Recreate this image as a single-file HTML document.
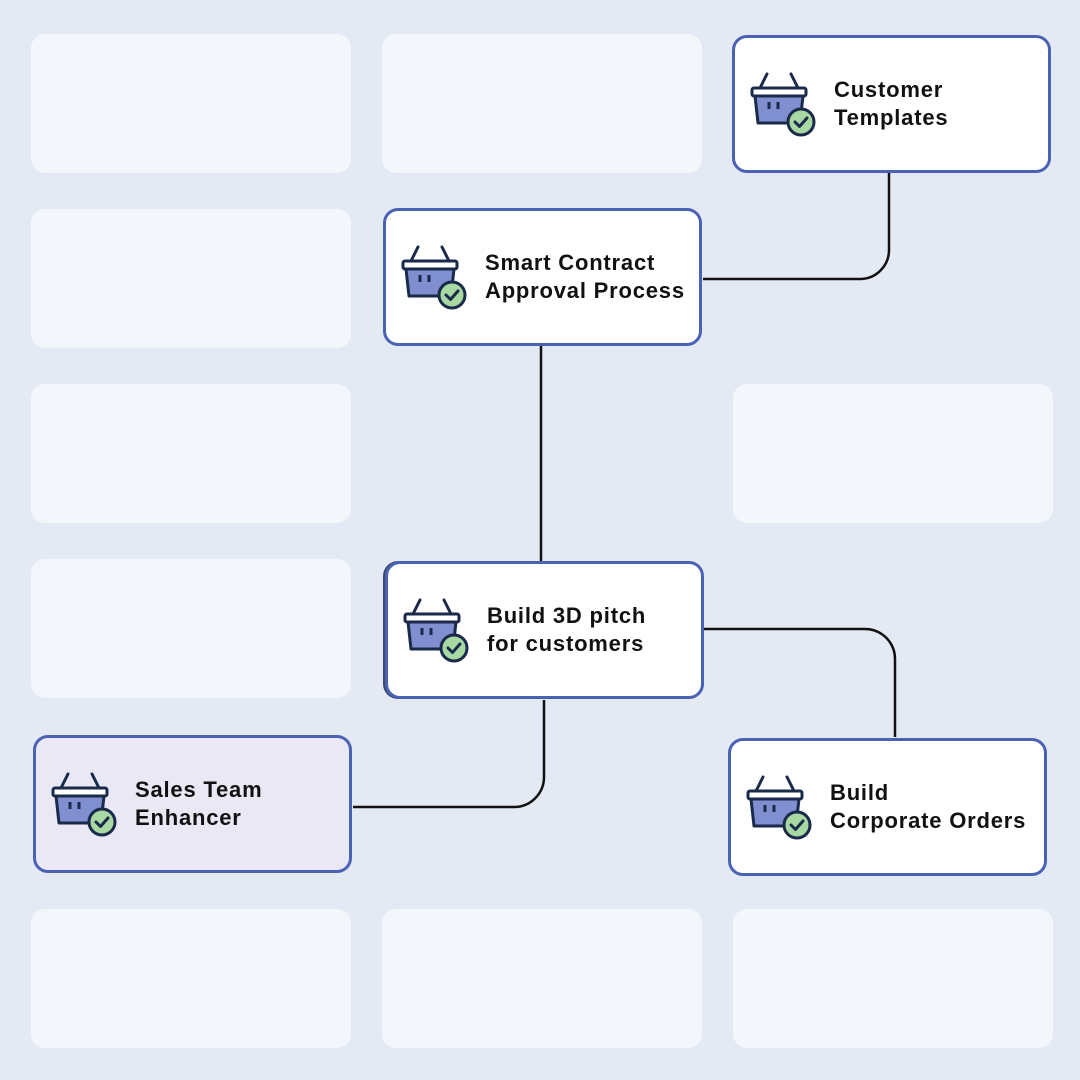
<!DOCTYPE html>
<html><head><meta charset="utf-8"><style>
body{margin:0;width:1080px;height:1080px;background:#e4eaf4;position:relative;overflow:hidden;font-family:"Liberation Sans",sans-serif}
.ph{position:absolute;width:320px;height:139px;background:#f3f6fa;border-radius:14px}
.n{position:absolute;width:313px;height:132px;background:#fff;border:3px solid #4a62b4;border-radius:15px}
.n svg{position:absolute;left:15px;top:33px}
.n .t{position:absolute;left:99px;top:0;height:132px;display:flex;align-items:center;font-weight:bold;font-size:22px;line-height:28px;color:#111;letter-spacing:0.8px}
</style></head><body>
<div class="ph" style="left:31px;top:34px"></div>
<div class="ph" style="left:382px;top:34px"></div>
<div class="ph" style="left:31px;top:209px"></div>
<div class="ph" style="left:31px;top:384px"></div>
<div class="ph" style="left:733px;top:384px"></div>
<div class="ph" style="left:31px;top:559px"></div>
<div class="ph" style="left:31px;top:909px"></div>
<div class="ph" style="left:382px;top:909px"></div>
<div class="ph" style="left:733px;top:909px"></div>

<svg width="1080" height="1080" style="position:absolute;left:0;top:0" fill="none" stroke="#111" stroke-width="2.5">
<path d="M889 172 V250 A29 29 0 0 1 860 279 H703"/>
<path d="M541 346 V561"/>
<path d="M704 629 H865 A30 30 0 0 1 895 659 V737"/>
<path d="M544 700 V777 A30 30 0 0 1 514 807 H353"/>
</svg>

<div class="n" style="left:732px;top:35px"><svg width="70" height="70"><g stroke="#1a2a4a" stroke-width="3" stroke-linecap="round" fill="none"><line x1="10" y1="17" x2="17" y2="3"/><line x1="48" y1="17" x2="41" y2="3"/></g><path d="M5 25 H53 L50 52 H8 Z" fill="#7f8fd0" stroke="#1a2a4a" stroke-width="3" stroke-linejoin="round"/><rect x="2" y="17" width="54" height="8" rx="2" fill="#fff" stroke="#1a2a4a" stroke-width="3"/><line x1="19" y1="31" x2="19" y2="38" stroke="#1a2a4a" stroke-width="3"/><line x1="28" y1="31" x2="28" y2="38" stroke="#1a2a4a" stroke-width="3"/><circle cx="51" cy="51" r="13" fill="#a9d9a3" stroke="#1a2a4a" stroke-width="3"/><path d="M45 51 L49.5 55.5 L57 47" stroke="#1a2a4a" stroke-width="3" fill="none" stroke-linecap="round" stroke-linejoin="round"/></svg><div class="t">Customer<br>Templates</div></div>

<div class="n" style="left:383px;top:208px"><svg width="70" height="70"><g stroke="#1a2a4a" stroke-width="3" stroke-linecap="round" fill="none"><line x1="10" y1="17" x2="17" y2="3"/><line x1="48" y1="17" x2="41" y2="3"/></g><path d="M5 25 H53 L50 52 H8 Z" fill="#7f8fd0" stroke="#1a2a4a" stroke-width="3" stroke-linejoin="round"/><rect x="2" y="17" width="54" height="8" rx="2" fill="#fff" stroke="#1a2a4a" stroke-width="3"/><line x1="19" y1="31" x2="19" y2="38" stroke="#1a2a4a" stroke-width="3"/><line x1="28" y1="31" x2="28" y2="38" stroke="#1a2a4a" stroke-width="3"/><circle cx="51" cy="51" r="13" fill="#a9d9a3" stroke="#1a2a4a" stroke-width="3"/><path d="M45 51 L49.5 55.5 L57 47" stroke="#1a2a4a" stroke-width="3" fill="none" stroke-linecap="round" stroke-linejoin="round"/></svg><div class="t">Smart Contract<br>Approval Process</div></div>

<div class="n" style="left:385px;top:561px;box-shadow:-2px 0 0 #3a4a70"><svg width="70" height="70"><g stroke="#1a2a4a" stroke-width="3" stroke-linecap="round" fill="none"><line x1="10" y1="17" x2="17" y2="3"/><line x1="48" y1="17" x2="41" y2="3"/></g><path d="M5 25 H53 L50 52 H8 Z" fill="#7f8fd0" stroke="#1a2a4a" stroke-width="3" stroke-linejoin="round"/><rect x="2" y="17" width="54" height="8" rx="2" fill="#fff" stroke="#1a2a4a" stroke-width="3"/><line x1="19" y1="31" x2="19" y2="38" stroke="#1a2a4a" stroke-width="3"/><line x1="28" y1="31" x2="28" y2="38" stroke="#1a2a4a" stroke-width="3"/><circle cx="51" cy="51" r="13" fill="#a9d9a3" stroke="#1a2a4a" stroke-width="3"/><path d="M45 51 L49.5 55.5 L57 47" stroke="#1a2a4a" stroke-width="3" fill="none" stroke-linecap="round" stroke-linejoin="round"/></svg><div class="t">Build 3D pitch<br>for customers</div></div>

<div class="n" style="left:33px;top:735px;background:#e9e8f4"><svg width="70" height="70"><g stroke="#1a2a4a" stroke-width="3" stroke-linecap="round" fill="none"><line x1="10" y1="17" x2="17" y2="3"/><line x1="48" y1="17" x2="41" y2="3"/></g><path d="M5 25 H53 L50 52 H8 Z" fill="#7f8fd0" stroke="#1a2a4a" stroke-width="3" stroke-linejoin="round"/><rect x="2" y="17" width="54" height="8" rx="2" fill="#fff" stroke="#1a2a4a" stroke-width="3"/><line x1="19" y1="31" x2="19" y2="38" stroke="#1a2a4a" stroke-width="3"/><line x1="28" y1="31" x2="28" y2="38" stroke="#1a2a4a" stroke-width="3"/><circle cx="51" cy="51" r="13" fill="#a9d9a3" stroke="#1a2a4a" stroke-width="3"/><path d="M45 51 L49.5 55.5 L57 47" stroke="#1a2a4a" stroke-width="3" fill="none" stroke-linecap="round" stroke-linejoin="round"/></svg><div class="t">Sales Team<br>Enhancer</div></div>

<div class="n" style="left:728px;top:738px"><svg width="70" height="70"><g stroke="#1a2a4a" stroke-width="3" stroke-linecap="round" fill="none"><line x1="10" y1="17" x2="17" y2="3"/><line x1="48" y1="17" x2="41" y2="3"/></g><path d="M5 25 H53 L50 52 H8 Z" fill="#7f8fd0" stroke="#1a2a4a" stroke-width="3" stroke-linejoin="round"/><rect x="2" y="17" width="54" height="8" rx="2" fill="#fff" stroke="#1a2a4a" stroke-width="3"/><line x1="19" y1="31" x2="19" y2="38" stroke="#1a2a4a" stroke-width="3"/><line x1="28" y1="31" x2="28" y2="38" stroke="#1a2a4a" stroke-width="3"/><circle cx="51" cy="51" r="13" fill="#a9d9a3" stroke="#1a2a4a" stroke-width="3"/><path d="M45 51 L49.5 55.5 L57 47" stroke="#1a2a4a" stroke-width="3" fill="none" stroke-linecap="round" stroke-linejoin="round"/></svg><div class="t">Build<br>Corporate Orders</div></div>
</body></html>
